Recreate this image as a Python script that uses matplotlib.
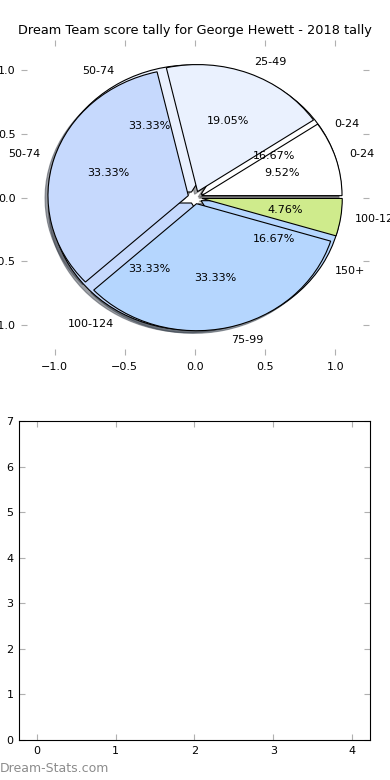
import matplotlib
matplotlib.use("Agg")
import matplotlib.pyplot as plt

# two tallies drawn on the same pie axes
labels_a = ["0-24", "50-74", "100-124", "150+"]
pct_a = [16.67, 33.33, 33.33, 16.67]

labels_b = ["0-24", "25-49", "50-74", "75-99", "100-124"]
pct_b = [9.52, 19.05, 33.33, 33.33, 4.76]

colors_a = ["#ffffff", "#eaf1fe", "#c6d9fd", "#b5d6fe"]
colors_b = ["#ffffff", "#eaf1fe", "#c6d9fd", "#b5d6fe", "#cfeb8c"]

title = "Dream Team score tally for George Hewett - 2018 tally"

tick_gray = "#b0b0b0"
fig = plt.figure(figsize=(3.9, 7.8), dpi=100)

ax = fig.add_axes([21 / 390, 1 - 355 / 780, 348 / 390, 315 / 780])
for vals, labs, cols in [(pct_a, labels_a, colors_a), (pct_b, labels_b, colors_b)]:
    wedges, texts, autotexts = ax.pie(
        vals, labels=labs, colors=cols, autopct="%1.2f%%",
        shadow={"ox": -0.015, "oy": -0.015},
        explode=[0.05] * len(vals), frame=True,
        wedgeprops={"edgecolor": "black", "linewidth": 0.8},
        textprops={"fontsize": 8})
ax.set_aspect("auto")
ax.set_xlim(-1.24, 1.24)
ax.set_ylim(-1.24, 1.24)
ax.set_xticks([-1.0, -0.5, 0.0, 0.5, 1.0])
ax.set_yticks([-1.0, -0.5, 0.0, 0.5, 1.0])
for s in ax.spines.values():
    s.set_visible(False)
ax.tick_params(direction="in", color=tick_gray, labelsize=8, length=4,
               top=True, right=True, pad=5)
ax.tick_params(axis="y", pad=4)
ax.set_title(title, fontsize=9.3, pad=4)

ax2 = fig.add_axes([19 / 390, 1 - 740 / 780, 351 / 390, 319 / 780])
ax2.set_xlim(-0.23, 4.23)
ax2.set_ylim(0, 7)
ax2.set_xticks(range(5))
ax2.set_yticks(range(8))
ax2.tick_params(direction="in", color=tick_gray, labelsize=8, length=4,
                top=True, right=True, pad=4)

fig.text(0.0, 0.006, "Dream-Stats.com", color="#8c8c8c", fontsize=9,
         ha="left", va="bottom")

fig.savefig("out.png", dpi=100)
